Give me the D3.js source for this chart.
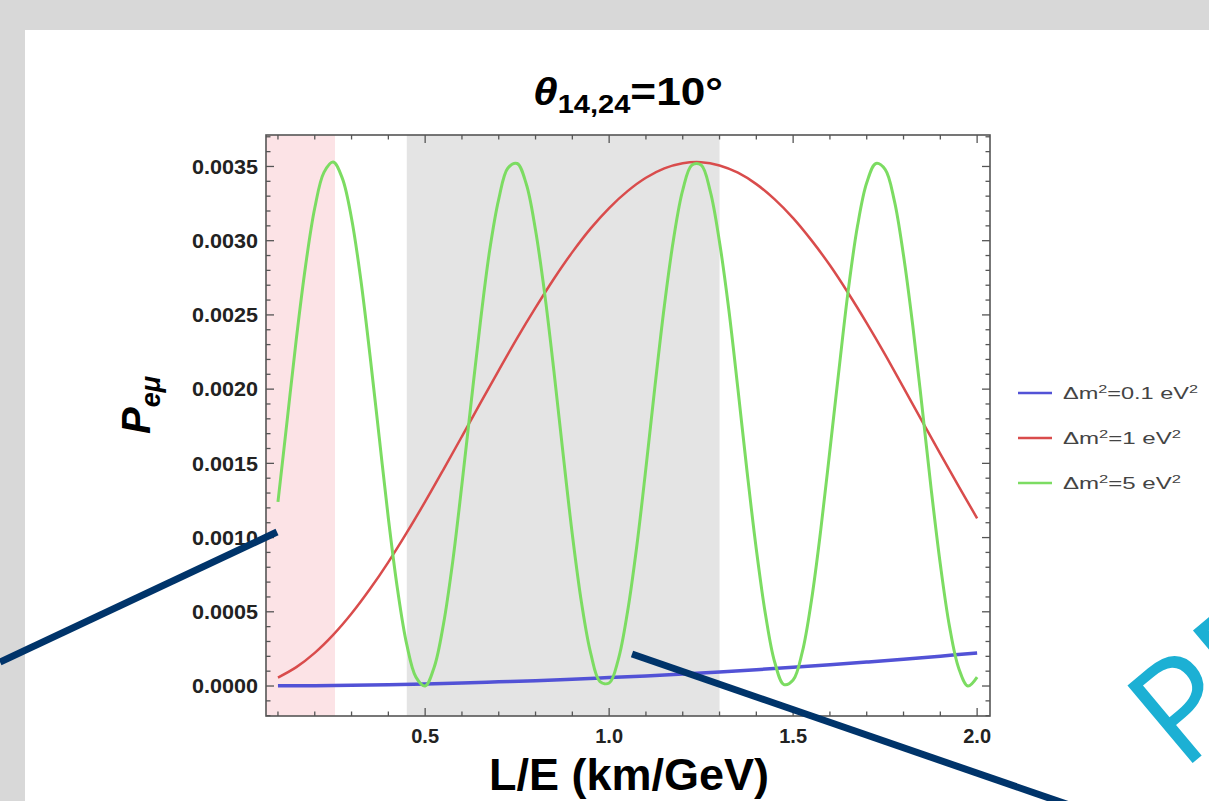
<!DOCTYPE html>
<html lang="en">
<head>
<meta charset="utf-8">
<script src="https://d3js.org/d3.v7.min.js"></script>
<style>
  body { margin: 0; background: #d8d8d8; }
  svg { display: block; }
  .tick-label { font: bold 20px "Liberation Sans", Arial, sans-serif; fill: #222; }
</style>
</head>
<body>
<svg width="1209" height="801"></svg>
<script>
// L/E grid (km/GeV) and P_e-mu values, in units of 1e-4
var greenX = [0.1,0.125,0.15,0.175,0.2,0.225,0.25,0.275,0.3,0.325,0.35,0.375,0.4,0.425,0.45,0.475,
  0.5,0.525,0.55,0.575,0.6,0.625,0.65,0.675,0.7,0.725,0.75,0.775,0.8,0.825,0.85,0.875,0.9,0.925,0.95,0.975,
  1.0,1.025,1.05,1.075,1.1,1.125,1.15,1.175,1.2,1.225,1.25,1.275,1.3,1.325,1.35,1.375,1.4,1.425,1.45,1.475,
  1.5,1.525,1.55,1.575,1.6,1.625,1.65,1.675,1.7,1.725,1.75,1.775,1.8,1.825,1.85,1.875,1.9,1.925,1.95,1.975,2.0];
var greenP = [12.4,17.9,23.4,28.3,32.2,34.6,35.3,34.2,31.5,27.4,22.3,16.8,11.3,6.5,2.8,0.6,
  0.0,1.3,4.2,8.4,13.6,19.1,24.5,29.3,32.8,34.9,35.2,33.8,30.7,26.4,21.2,15.6,10.2,5.6,2.2,0.3,
  0.2,1.8,5.0,9.4,14.7,20.3,25.6,30.1,33.4,35.1,35.1,33.3,29.9,25.4,20.0,14.4,9.2,4.8,1.6,0.1,
  0.4,2.3,5.8,10.5,15.9,21.4,26.7,31.0,33.9,35.2,34.8,32.7,29.0,24.3,18.9,13.3,8.2,4.0,1.2,0.0,0.6];

var redX = [0.1,0.15,0.2,0.25,0.3,0.35,0.4,0.45,0.5,0.55,0.6,0.65,0.7,0.75,0.8,0.85,0.9,0.95,1.0,
  1.05,1.1,1.15,1.2,1.25,1.3,1.35,1.4,1.45,1.5,1.55,1.6,1.65,1.7,1.75,1.8,1.85,1.9,1.95,2.0];
var redP = [0.57,1.27,2.23,3.44,4.88,6.53,8.35,10.33,12.42,14.60,16.82,19.06,21.27,23.44,25.49,27.44,29.23,30.83,32.20,
  33.34,34.24,34.87,35.22,35.29,35.07,34.58,33.81,32.78,31.52,30.02,28.34,26.46,24.45,22.33,20.10,17.86,15.64,13.45,11.30];

var blueX = [0.1,0.2,0.3,0.4,0.5,0.6,0.7,0.8,0.9,1.0,1.1,1.2,1.3,1.4,1.5,1.6,1.7,1.8,1.9,2.0];
var blueP = [0.01,0.02,0.05,0.09,0.14,0.20,0.28,0.36,0.46,0.57,0.68,0.81,0.95,1.10,1.26,1.43,1.61,1.80,2.01,2.23];

var seriesNames = ["0.1", "1", "5"];
var seriesColors = ["#5252d6", "#d94c4c", "#7cdc62"];

// shaded L/E bands
var pinkBand = [0.0675, 0.255];
var grayBand = [0.45, 1.3];

var yMajor = [0, 5, 10, 15, 20, 25, 30, 35];
var xMajor = [0.5, 1.0, 1.5, 2.0];

// slide annotation strokes
var arrows = [[[0, 662], [277, 532]], [[632, 654], [1078, 808]]];

var svg = d3.select("svg");

svg.append("rect").attr("width", 1209).attr("height", 801).attr("fill", "#d8d8d8");
svg.append("rect").attr("x", 25).attr("y", 30).attr("width", 1184).attr("height", 771).attr("fill", "#fff");

var plotL = 266, plotR = 990, plotT = 135, plotB = 716;

var x = d3.scaleLinear().domain([0.0675, 2.035]).range([plotL, plotR]);
var y = d3.scaleLinear().domain([-2.02, 37.12]).range([plotB, plotT]);

var plot = svg.append("g");

plot.append("rect")
    .attr("x", x(pinkBand[0])).attr("width", x(pinkBand[1]) - x(pinkBand[0]))
    .attr("y", plotT).attr("height", plotB - plotT)
    .attr("fill", "#fce3e6");
plot.append("rect")
    .attr("x", x(grayBand[0])).attr("width", x(grayBand[1]) - x(grayBand[0]))
    .attr("y", plotT).attr("height", plotB - plotT)
    .attr("fill", "#e4e4e4");

// curves
var line = d3.line()
    .x(function(d) { return x(d[0]); })
    .y(function(d) { return y(d[1]); })
    .curve(d3.curveCatmullRom.alpha(0.5));

var series = [
  { xs: blueX, ps: blueP, color: seriesColors[0], w: 3.5 },
  { xs: redX, ps: redP, color: seriesColors[1], w: 2.5 },
  { xs: greenX, ps: greenP, color: seriesColors[2], w: 3 }
];

series.forEach(function(s) {
  plot.append("path")
      .datum(d3.zip(s.xs, s.ps))
      .attr("fill", "none")
      .attr("stroke", s.color)
      .attr("stroke-width", s.w)
      .attr("stroke-linejoin", "round")
      .attr("d", line);
});

// frame
plot.append("rect")
    .attr("x", plotL).attr("y", plotT).attr("width", plotR - plotL).attr("height", plotB - plotT)
    .attr("fill", "none").attr("stroke", "#555").attr("stroke-width", 1.6);

// ticks on all four sides, pointing inward
var xMinor = d3.range(1, 21).map(function(i) { return i / 10; });
var yMinor = d3.range(-2, 38);

function isMajorX(v) { return xMajor.some(function(m) { return Math.abs(m - v) < 1e-6; }); }

var ticks = plot.append("g").attr("stroke", "#555").attr("stroke-width", 1.3);
xMinor.forEach(function(v) {
  var len = isMajorX(v) ? 8 : 4.5;
  ticks.append("line").attr("x1", x(v)).attr("x2", x(v)).attr("y1", plotB).attr("y2", plotB - len);
  ticks.append("line").attr("x1", x(v)).attr("x2", x(v)).attr("y1", plotT).attr("y2", plotT + len);
});
yMinor.forEach(function(v) {
  var len = (v % 5 === 0) ? 8 : 4.5;
  ticks.append("line").attr("y1", y(v)).attr("y2", y(v)).attr("x1", plotL).attr("x2", plotL + len);
  ticks.append("line").attr("y1", y(v)).attr("y2", y(v)).attr("x1", plotR).attr("x2", plotR - len);
});

// tick labels
plot.selectAll(".ylab").data(yMajor).enter().append("text")
    .attr("class", "tick-label")
    .attr("x", 258).attr("y", function(d) { return y(d); })
    .attr("dy", "0.36em")
    .attr("text-anchor", "end")
    .attr("textLength", 66).attr("lengthAdjust", "spacingAndGlyphs")
    .text(function(d) { return d3.format(".4f")(d / 1e4); });

plot.selectAll(".xlab").data(xMajor).enter().append("text")
    .attr("class", "tick-label")
    .attr("x", function(d) { return x(d); }).attr("y", 743)
    .attr("text-anchor", "middle")
    .text(function(d) { return d3.format(".1f")(d); });

// title
var title = svg.append("text")
    .attr("x", 628).attr("y", 105)
    .attr("text-anchor", "middle")
    .attr("font-family", "Liberation Sans, Arial, sans-serif")
    .attr("font-weight", "bold").attr("font-size", 38)
    .attr("textLength", 190).attr("lengthAdjust", "spacingAndGlyphs");
title.append("tspan").attr("font-style", "italic").text("θ");
title.append("tspan").attr("font-size", 25).attr("dy", 8).text("14,24");
title.append("tspan").attr("dy", -8).text("=10°");

// axis labels
svg.append("text")
    .attr("x", 629).attr("y", 790)
    .attr("text-anchor", "middle")
    .attr("font-family", "Liberation Sans, Arial, sans-serif")
    .attr("font-weight", "bold").attr("font-size", 44)
    .attr("textLength", 280).attr("lengthAdjust", "spacingAndGlyphs")
    .text("L/E (km/GeV)");

var ylab = svg.append("text")
    .attr("transform", "translate(150,405) rotate(-90)")
    .attr("text-anchor", "middle")
    .attr("font-family", "Liberation Sans, Arial, sans-serif")
    .attr("font-weight", "bold").attr("font-style", "italic").attr("font-size", 40);
ylab.append("tspan").text("P");
ylab.append("tspan").attr("font-size", 27).attr("dy", 10).text("eμ");

// legend
var legend = svg.append("g");
seriesNames.forEach(function(name, i) {
  var ly = 393 + i * 45;
  legend.append("line")
      .attr("x1", 1018).attr("x2", 1052).attr("y1", ly).attr("y2", ly)
      .attr("stroke", seriesColors[i]).attr("stroke-width", 2.5);
  var t = legend.append("text")
      .attr("x", 1063).attr("y", ly + 6)
      .attr("font-family", "Liberation Sans, Arial, sans-serif")
      .attr("font-size", 16).attr("fill", "#444")
      .attr("textLength", name.length > 1 ? 135 : 118).attr("lengthAdjust", "spacingAndGlyphs");
  t.append("tspan").text("Δm");
  t.append("tspan").attr("font-size", 11).attr("dy", -6).text("2");
  t.append("tspan").attr("dy", 6).text("=" + name + " eV");
  t.append("tspan").attr("font-size", 11).attr("dy", -6).text("2");
});

// slide annotations
svg.selectAll(".arrow").data(arrows).enter().append("line")
    .attr("x1", function(d) { return d[0][0]; }).attr("y1", function(d) { return d[0][1]; })
    .attr("x2", function(d) { return d[1][0]; }).attr("y2", function(d) { return d[1][1]; })
    .attr("stroke", "#00346a").attr("stroke-width", 7);

svg.append("text")
    .attr("transform", "translate(1182,772) rotate(-40)")
    .attr("font-family", "Open Sans, sans-serif")
    .attr("font-size", 142).attr("fill", "#1cb0d4")
    .text("PE");
</script>
</body>
</html>
